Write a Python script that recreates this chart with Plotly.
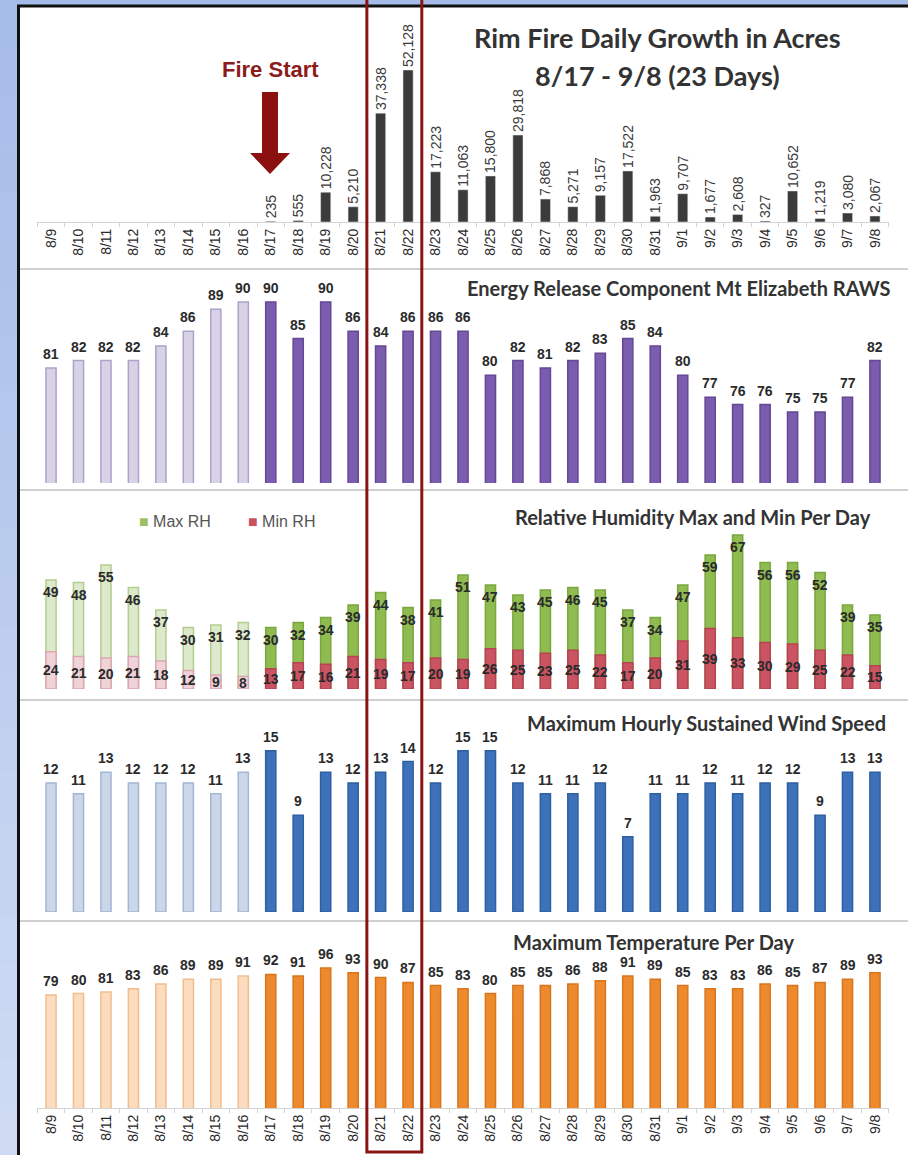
import plotly.graph_objects as go

# ---- data -------------------------------------------------------------
dates = ["8/9", "8/10", "8/11", "8/12", "8/13", "8/14", "8/15", "8/16",
         "8/17", "8/18", "8/19", "8/20", "8/21", "8/22", "8/23", "8/24",
         "8/25", "8/26", "8/27", "8/28", "8/29", "8/30", "8/31", "9/1",
         "9/2", "9/3", "9/4", "9/5", "9/6", "9/7", "9/8"]

acres = [None, None, None, None, None, None, None, None,
         235, 555, 10228, 5210, 37338, 52128, 17223, 11063,
         15800, 29818, 7868, 5271, 9157, 17522, 1963, 9707,
         1677, 2608, 327, 10652, 1219, 3080, 2067]

erc = [81, 82, 82, 82, 84, 86, 89, 90, 90, 85, 90, 86, 84, 86, 86, 86,
       80, 82, 81, 82, 83, 85, 84, 80, 77, 76, 76, 75, 75, 77, 82]

rh_max = [49, 48, 55, 46, 37, 30, 31, 32, 30, 32, 34, 39, 44, 38, 41, 51,
          47, 43, 45, 46, 45, 37, 34, 47, 59, 67, 56, 56, 52, 39, 35]

rh_min = [24, 21, 20, 21, 18, 12, 9, 8, 13, 17, 16, 21, 19, 17, 20, 19,
          26, 25, 23, 25, 22, 17, 20, 31, 39, 33, 30, 29, 25, 22, 15]

wind = [12, 11, 13, 12, 12, 12, 11, 13, 15, 9, 13, 12, 13, 14, 12, 15,
        15, 12, 11, 11, 12, 7, 11, 11, 12, 11, 12, 12, 9, 13, 13]

temp = [79, 80, 81, 83, 86, 89, 89, 91, 92, 91, 96, 93, 90, 87, 85, 83,
        80, 85, 85, 86, 88, 91, 89, 85, 83, 83, 86, 85, 87, 89, 93]

FIRE_START = "8/17"

# ---- page geometry (pixels) ---------------------------------------------
W, H = 908, 1155


def fx(p):
    return p / W


def fy(p):
    return 1 - p / H


def two_tone(light, dark):
    start = dates.index(FIRE_START)
    return [light if i < start else dark for i in range(len(dates))]


def bar_style(light_fill, light_edge, dark_fill, dark_edge):
    """Pale bars before the fire start, saturated bars after it."""
    return dict(color=two_tone(light_fill, dark_fill),
                line=dict(color=two_tone(light_edge, dark_edge), width=1.5))


LABEL_FONT = dict(family="Liberation Sans, Arial, sans-serif", size=14,
                  color="#2b2b2b", weight="bold")
TITLE_FONT = "Lato, Open Sans, sans-serif"

x_domain = [fx(37.3), fx(888.7)]

# (baseline px, top px, axis min value, pixels per unit)
panels = {
    "acres": (222, 10, 0, 152 / 52128),
    "erc": (483, 272, 65.3, 7.33),
    "rh": (689, 494, 5.4, 2.5),
    "wind": (912, 702, 0, 10.75),
    "temp": (1108, 923, 8, 1.59),
}


def y_axis(name):
    base, top, vmin, ppu = panels[name]
    return dict(domain=[fy(base), fy(top)],
                range=[vmin, vmin + (base - top) / ppu],
                visible=False, fixedrange=True)


fig = go.Figure()

# daily growth
fig.add_trace(go.Bar(
    x=dates, y=acres, xaxis="x", yaxis="y",
    marker=dict(color="#3b3b3b"),
    text=[f"{v:,}" if v is not None else "" for v in acres],
    textposition="outside", textangle=-90, constraintext="none",
    cliponaxis=False,
    textfont=dict(family="Liberation Sans, Arial, sans-serif", size=14,
                  color="#3a3a3a"),
    showlegend=False))

# energy release component
fig.add_trace(go.Bar(
    x=dates, y=erc, xaxis="x2", yaxis="y2",
    marker=bar_style("#d8d2e6", "#ada2c9", "#7b5daf", "#644795"),
    showlegend=False))

# relative humidity: max (green) with min (red) drawn over it
fig.add_trace(go.Bar(
    x=dates, y=rh_max, xaxis="x3", yaxis="y3", name="Max RH",
    marker=bar_style("#dde9cb", "#b3cd90", "#8fbb50", "#7aa83e"),
    showlegend=False))
fig.add_trace(go.Bar(
    x=dates, y=rh_min, xaxis="x3", yaxis="y6", name="Min RH",
    marker=bar_style("#f0d3d9", "#dca6b1", "#cb5462", "#b64352"),
    showlegend=False))

# wind speed
fig.add_trace(go.Bar(
    x=dates, y=wind, xaxis="x4", yaxis="y4",
    marker=bar_style("#cbd6e8", "#a3b6d4", "#3d72ba", "#2d5fa3"),
    showlegend=False))

# max temperature
fig.add_trace(go.Bar(
    x=dates, y=temp, xaxis="x5", yaxis="y5",
    marker=bar_style("#fbdcbe", "#f1bd8f", "#ec8a2d", "#d9761d"),
    showlegend=False))

annotations = []


def value_labels(values, xa, ya, shift=4, anchor="bottom", yvals=None):
    for d, v, yv in zip(dates, values, yvals or values):
        annotations.append(dict(
            x=d, y=yv, xref=xa, yref=ya, text=str(v), showarrow=False,
            xanchor="center", yanchor=anchor, yshift=shift, font=LABEL_FONT))


value_labels(erc, "x2", "y2")
value_labels(wind, "x4", "y4")
value_labels(temp, "x5", "y5")
value_labels(rh_max, "x3", "y3", shift=-12, anchor="middle")
value_labels(rh_min, "x3", "y6", shift=0, anchor="middle",
             yvals=[v / 2 for v in rh_min])


def note(x, y, text, font, xanchor="center"):
    return dict(x=fx(x), y=fy(y), xref="paper", yref="paper", text=text,
                showarrow=False, xanchor=xanchor, yanchor="middle", font=font)


title_big = dict(family=TITLE_FONT, size=27, color="#333333", weight="bold")
title_panel = dict(family=TITLE_FONT, size=20, color="#333333", weight="bold")
legend_font = dict(family="Liberation Sans, Arial, sans-serif", size=16,
                   color="#555555")

annotations += [
    note(657, 38, "Rim Fire Daily Growth in Acres", title_big),
    note(657, 75, "8/17 - 9/8 (23 Days)", title_big),
    note(270, 70, "Fire Start",
         dict(family="Liberation Sans Narrow, Arial Narrow, Liberation Sans, sans-serif",
              size=22, color="#8c1b1b", weight="bold")),
    note(893, 288, "Energy Release Component Mt Elizabeth RAWS", title_panel, "right"),
    note(873, 517, "Relative Humidity Max and Min Per Day", title_panel, "right"),
    note(888, 723, "Maximum Hourly Sustained Wind Speed", title_panel, "right"),
    note(653, 942, "Maximum Temperature Per Day", title_panel),
    # RH legend
    note(137, 521, "<span style='color:#9cc060'>■</span> Max RH", legend_font, "left"),
    note(246, 521, "<span style='color:#c9505f'>■</span> Min RH", legend_font, "left"),
]

shapes = []

# blue backdrop gradient behind the white sheet
steps = 24
c0 = (166, 188, 232)
c1 = (206, 219, 243)
for i in range(steps):
    t = i / (steps - 1)
    c = tuple(round(a + (b - a) * t) for a, b in zip(c0, c1))
    shapes.append(dict(type="rect", xref="paper", yref="paper", layer="below",
                       x0=0, x1=1, y0=fy(H * (i + 1) / steps), y1=fy(H * i / steps),
                       line=dict(width=0), fillcolor=f"rgb{c}"))

# white sheet with dark frame
shapes.append(dict(type="rect", xref="paper", yref="paper", layer="below",
                   x0=fx(18.5), x1=fx(912), y0=fy(1158), y1=fy(6),
                   line=dict(color="#111111", width=3), fillcolor="white"))

# panel separators
for yp in (269, 490, 700, 921):
    shapes.append(dict(type="line", xref="paper", yref="paper", layer="below",
                       x0=fx(20), x1=fx(908), y0=fy(yp), y1=fy(yp),
                       line=dict(color="#cfcfcf", width=2)))

# fire start arrow
ax = 270
arrow = (f"M {fx(ax-8)} {fy(92)} L {fx(ax+8)} {fy(92)} L {fx(ax+8)} {fy(153)} "
         f"L {fx(ax+20)} {fy(153)} L {fx(ax)} {fy(174)} L {fx(ax-20)} {fy(153)} "
         f"L {fx(ax-8)} {fy(153)} Z")
shapes.append(dict(type="path", xref="paper", yref="paper", path=arrow,
                   fillcolor="#8c1010", line=dict(width=0)))

# highlight box around the two biggest growth days
i21 = dates.index("8/21")
shapes.append(dict(type="rect", xref="x", yref="paper", layer="above",
                   x0=i21 - 0.5, x1=i21 + 1.5, y0=fy(1152), y1=fy(-2),
                   line=dict(color="#8a1414", width=3), fillcolor="rgba(0,0,0,0)"))

tick_font = dict(family="Liberation Sans, Arial, sans-serif", size=14,
                 color="#2a2a2a")


def x_axis(anchor, labels):
    d = dict(domain=x_domain, anchor=anchor, type="category",
             range=[-0.5, len(dates) - 0.5], fixedrange=True,
             showgrid=False, zeroline=False)
    if labels:
        d.update(showline=True, linecolor="#d4d4d4", linewidth=1,
                 ticks="outside", tickson="boundaries", ticklen=4,
                 tickcolor="#d4d4d4", tickangle=-90, tickfont=tick_font,
                 showticklabels=True)
    else:
        d.update(showline=False, ticks="", showticklabels=False)
    return d


y6 = dict(domain=y_axis("rh")["domain"], range=[0, (689 - 494) / 1.55],
          visible=False, fixedrange=True, overlaying="y3", anchor="x3")

fig.update_layout(
    width=W, height=H,
    margin=dict(l=0, r=0, t=0, b=0),
    paper_bgcolor="#b8c9ec",
    plot_bgcolor="rgba(0,0,0,0)",
    barmode="overlay",
    bargap=0.63,
    xaxis=x_axis("y", True),
    xaxis2=x_axis("y2", False),
    xaxis3=x_axis("y3", False),
    xaxis4=x_axis("y4", False),
    xaxis5=x_axis("y5", True),
    yaxis=dict(y_axis("acres"), anchor="x"),
    yaxis2=dict(y_axis("erc"), anchor="x2"),
    yaxis3=dict(y_axis("rh"), anchor="x3"),
    yaxis4=dict(y_axis("wind"), anchor="x4"),
    yaxis5=dict(y_axis("temp"), anchor="x5"),
    yaxis6=y6,
    annotations=annotations,
    shapes=shapes,
    showlegend=False,
)

fig.write_html("out.html")
